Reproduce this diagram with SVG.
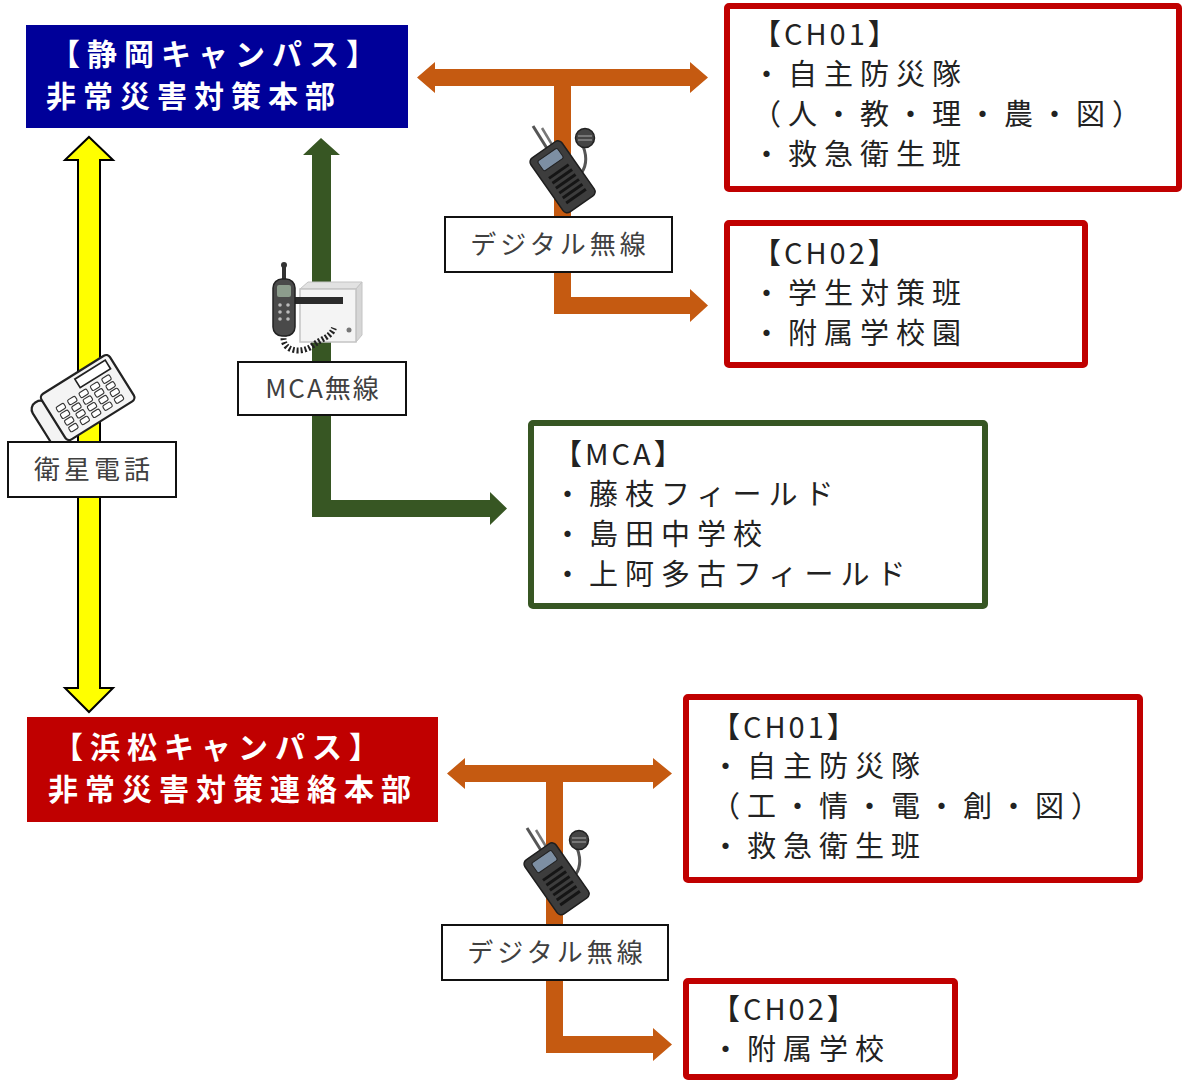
<svg xmlns="http://www.w3.org/2000/svg" width="1182" height="1080" viewBox="0 0 1182 1080">
<style>
.hq{font-family:"Noto Sans CJK JP","Noto Sans",sans-serif;font-size:30px;font-weight:bold;fill:#fff;letter-spacing:7px}
.bt{font-family:"Noto Sans CJK JP","Noto Sans",sans-serif;font-size:29px;fill:#222;letter-spacing:7px}
.hd{letter-spacing:3px}
.lb{font-family:"Noto Sans CJK JP","Noto Sans",sans-serif;font-size:26px;fill:#404040;letter-spacing:4px;text-anchor:middle}
.red{fill:#fff;stroke:#c00000;stroke-width:6}
.grn{fill:#fff;stroke:#375623;stroke-width:6}
.lbox{fill:#fff;stroke:#111;stroke-width:2}
.or{fill:#c55a11}
.gr{fill:#375623}
.ye{fill:#ffff00;stroke:#000;stroke-width:2}
</style>
<defs>
<rect id="key" x="-4" y="-2.5" width="8" height="5" rx="1.5" fill="#fff" stroke="#333" stroke-width="1"/>
<g id="handheld">
<line x1="-14" y1="-20" x2="-29" y2="-44" stroke="#555" stroke-width="3"/>
<line x1="-8" y1="-22" x2="-20" y2="-42" stroke="#777" stroke-width="2.5"/>
<path d="M21,-24 Q28,-6 17,6" fill="none" stroke="#555" stroke-width="3"/>
<circle cx="23" cy="-32" r="9.5" fill="#454545" stroke="#222" stroke-width="1.5"/>
<line x1="16" y1="-34" x2="30" y2="-34" stroke="#888" stroke-width="1.5"/>
<line x1="16" y1="-30" x2="30" y2="-30" stroke="#888" stroke-width="1.5"/>
<g transform="translate(0,6) rotate(-35)">
<rect x="-19" y="-32" width="38" height="66" rx="5" fill="#3d3d3d" stroke="#1e1e1e" stroke-width="1.5"/>
<rect x="-12" y="-26" width="24" height="12" rx="2" fill="#7d8fa3" stroke="#222" stroke-width="1"/>
<rect x="-12" y="-7" width="24" height="3" fill="#151515"/>
<rect x="-12" y="-1" width="24" height="3" fill="#151515"/>
<rect x="-12" y="5" width="24" height="3" fill="#151515"/>
<rect x="-12" y="11" width="24" height="3" fill="#151515"/>
<rect x="-12" y="17" width="24" height="3" fill="#151515"/>
<rect x="-12" y="23" width="24" height="3" fill="#151515"/>
</g>
</g>
</defs>

<g id="connectors">
<path id="sat-phone" class="ye" d="M89,137 L113,160 L100,160 L100,688 L113,688 L89,712 L65,688 L78,688 L78,160 L65,160 Z"/>
<path id="mca-link" class="gr" d="M321,138 L340,155 L331,155 L331,500 L490,500 L490,492 L507,508.5 L490,525 L490,517 L312,517 L312,155 L303,155 Z"/>
<path id="digital-top" class="or" d="M417,77.5 L435,62 L435,69 L690,69 L690,62 L708,77.5 L690,93 L690,86 L571,86 L571,297 L690,297 L690,289 L708,305.5 L690,322 L690,314 L554,314 L554,86 L435,86 L435,93 Z"/>
<path id="digital-bottom" class="or" d="M447,773.5 L465,758 L465,765 L653,765 L653,758 L672,773.5 L653,789 L653,782 L563,782 L563,1036 L653,1036 L653,1028 L672,1044.5 L653,1061 L653,1053 L546,1053 L546,782 L465,782 L465,789 Z"/>
</g>

<g id="icons">
<g id="phone-icon" transform="translate(88,396) rotate(-32) scale(1.12)">
<rect x="-50" y="-20" width="15" height="50" rx="7" fill="#f4f4f4" stroke="#222" stroke-width="2"/>
<rect x="-37" y="-23" width="72" height="48" rx="4" fill="#f4f4f4" stroke="#222" stroke-width="2"/>
<rect x="-2" y="-19" width="32" height="9" fill="#fff" stroke="#222" stroke-width="1.5"/>
<use href="#key" x="-26" y="-4"/><use href="#key" x="-14" y="-4"/><use href="#key" x="-2" y="-4"/><use href="#key" x="10" y="-4"/><use href="#key" x="22" y="-4"/>
<use href="#key" x="-26" y="3"/><use href="#key" x="-14" y="3"/><use href="#key" x="-2" y="3"/><use href="#key" x="10" y="3"/><use href="#key" x="22" y="3"/>
<use href="#key" x="-26" y="10"/><use href="#key" x="-14" y="10"/><use href="#key" x="-2" y="10"/><use href="#key" x="10" y="10"/><use href="#key" x="22" y="10"/>
<use href="#key" x="-26" y="17"/><use href="#key" x="-14" y="17"/><use href="#key" x="-2" y="17"/><use href="#key" x="10" y="17"/><use href="#key" x="22" y="17"/>
</g>
<g id="mca-radio-icon">
<polygon points="300,289 308,282 362,282 356,289" fill="#e2e2e2" stroke="#c4c4c4" stroke-width="1"/>
<polygon points="356,289 362,282 362,335 356,342" fill="#d6d6d6" stroke="#c4c4c4" stroke-width="1"/>
<rect x="300" y="289" width="56" height="53" fill="#f4f4f4" stroke="#c4c4c4" stroke-width="1.5"/>
<rect x="291" y="297" width="52" height="7" fill="#2b2b2b"/>
<circle cx="349" cy="330" r="2.5" fill="#777"/>
<path d="M284,334 C280,352 302,354 312,346 S330,338 334,328" fill="none" stroke="#222" stroke-width="6" stroke-dasharray="2 2"/>
<rect x="282" y="264" width="4" height="16" fill="#333"/>
<circle cx="284" cy="265" r="3" fill="#333"/>
<rect x="273" y="279" width="22" height="57" rx="9" fill="#4a4a4a" stroke="#222" stroke-width="1.5"/>
<rect x="277" y="285" width="14" height="12" rx="2" fill="#8c9c8c"/>
<circle cx="280" cy="305" r="1.8" fill="#bbb"/><circle cx="288" cy="305" r="1.8" fill="#bbb"/>
<circle cx="280" cy="312" r="1.8" fill="#bbb"/><circle cx="288" cy="312" r="1.8" fill="#bbb"/>
<circle cx="280" cy="319" r="1.8" fill="#bbb"/><circle cx="288" cy="319" r="1.8" fill="#bbb"/>
</g>
<use id="radio-icon-top" href="#handheld" x="562" y="170"/>
<use id="radio-icon-bottom" href="#handheld" x="556" y="872"/>
</g>

<g id="label-sat">
<rect class="lbox" x="8" y="442" width="168" height="55"/>
<text class="lb" x="94" y="479">衛星電話</text>
</g>
<g id="label-mca">
<rect class="lbox" x="238" y="362" width="168" height="53"/>
<text class="lb" x="323" y="398" style="letter-spacing:2px">MCA無線</text>
</g>
<g id="label-digital-top">
<rect class="lbox" x="445" y="217" width="227" height="55"/>
<text class="lb" x="560" y="254">デジタル無線</text>
</g>
<g id="label-digital-bottom">
<rect class="lbox" x="442" y="925" width="226" height="55"/>
<text class="lb" x="557" y="962">デジタル無線</text>
</g>

<g id="shizuoka-hq">
<rect x="26" y="25" width="382" height="103" fill="#000099"/>
<text class="hq" x="50" y="65">【静岡キャンパス】</text>
<text class="hq" x="46" y="107">非常災害対策本部</text>
</g>
<g id="hamamatsu-hq">
<rect x="27" y="717" width="411" height="105" fill="#c00000"/>
<text class="hq" x="53" y="758">【浜松キャンパス】</text>
<text class="hq" x="48" y="800">非常災害対策連絡本部</text>
</g>

<g id="top-ch01">
<rect class="red" x="727" y="6" width="452" height="183" rx="2"/>
<text class="bt hd" x="752" y="45">【CH01】</text>
<text class="bt" x="752" y="85">・自主防災隊</text>
<text class="bt" x="752" y="125">（人・教・理・農・図）</text>
<text class="bt" x="752" y="165">・救急衛生班</text>
</g>
<g id="top-ch02">
<rect class="red" x="727" y="223" width="358" height="142" rx="2"/>
<text class="bt hd" x="752" y="264">【CH02】</text>
<text class="bt" x="752" y="304">・学生対策班</text>
<text class="bt" x="752" y="344">・附属学校園</text>
</g>
<g id="mca-box">
<rect class="grn" x="531" y="423" width="454" height="183" rx="2"/>
<text class="bt hd" x="553" y="465">【MCA】</text>
<text class="bt" x="553" y="505">・藤枝フィールド</text>
<text class="bt" x="553" y="545">・島田中学校</text>
<text class="bt" x="553" y="585">・上阿多古フィールド</text>
</g>
<g id="bottom-ch01">
<rect class="red" x="686" y="697" width="454" height="183" rx="2"/>
<text class="bt hd" x="711" y="738">【CH01】</text>
<text class="bt" x="711" y="777">・自主防災隊</text>
<text class="bt" x="711" y="817">（工・情・電・創・図）</text>
<text class="bt" x="711" y="857">・救急衛生班</text>
</g>
<g id="bottom-ch02">
<rect class="red" x="686" y="981" width="269" height="96" rx="2"/>
<text class="bt hd" x="711" y="1020">【CH02】</text>
<text class="bt" x="711" y="1060">・附属学校</text>
</g>
</svg>
